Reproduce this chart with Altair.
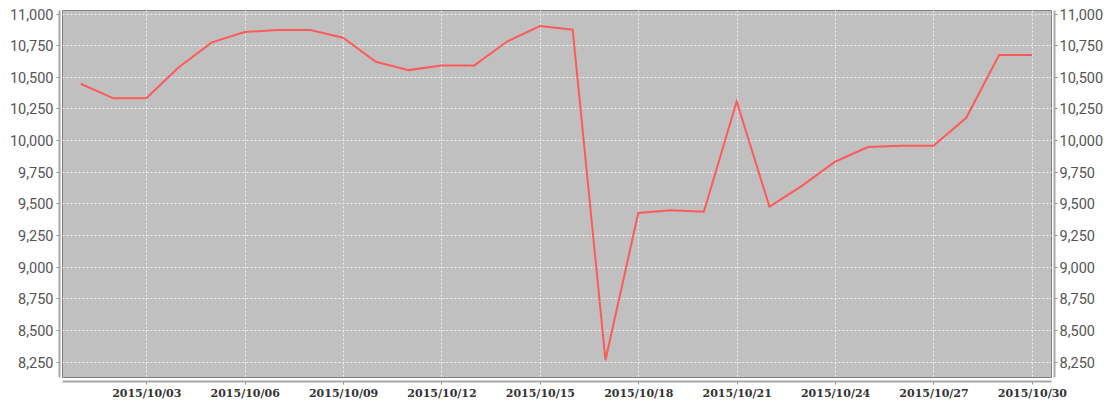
import altair as alt
import pandas as pd

dates = [f"2015-10-{d:02d}T00:00:00" for d in range(1, 31)]
values = [10445, 10330, 10330, 10578, 10772, 10854, 10870, 10870, 10809, 10619,
          10553, 10590, 10590, 10779, 10901, 10872, 8262, 9424, 9445, 9434,
          10305, 9474, 9640, 9829, 9945, 9955, 9955, 10176, 10672, 10672]
y_ticks = [8250, 8500, 8750, 9000, 9250, 9500, 9750, 10000, 10250, 10500, 10750, 11000]
x_tick_days = [3, 6, 9, 12, 15, 18, 21, 24, 27, 30]

df = pd.DataFrame({"date": dates, "value": values})

x_domain = [alt.DateTime(year=2015, month=9, date=30, hours=10, minutes=20),
            alt.DateTime(year=2015, month=10, date=30, hours=14, minutes=0)]
x_values = [alt.DateTime(year=2015, month=10, date=d) for d in x_tick_days]

x_enc = alt.X(
    "date:T",
    scale=alt.Scale(domain=x_domain),
    axis=alt.Axis(
        values=x_values, format="%Y/%m/%d", title=None, offset=4,
        domainColor="#A8A8A8", domainWidth=2, tickColor="#909090", tickSize=3,
        labelFont="DejaVu Serif", labelFontSize=11, labelFontWeight="bold",
        labelColor="#333333", labelPadding=3,
        grid=True, gridColor="#EEEEEE", gridDash=[2, 2], gridWidth=1,
    ),
)

y_scale = alt.Scale(domain=[8128, 11028], nice=False, zero=False)

def y_axis(orient, grid, pad):
    return alt.Axis(
        orient=orient, values=y_ticks, format=",d", title=None, offset=3,
        domainColor="#A8A8A8", domainWidth=2, tickColor="#909090", tickSize=3,
        labelFont="Roboto", labelFontSize=14.5, labelColor="#555555",
        labelPadding=pad, labelOffset=1.5,
        grid=grid, gridColor="#EEEEEE", gridDash=[2, 2], gridWidth=1,
    )

base = alt.Chart(df).encode(x=x_enc)

left = base.mark_line(color="#FF5A5A", strokeWidth=2).encode(
    y=alt.Y("value:Q", scale=y_scale, axis=y_axis("left", True, 3))
)
right = base.mark_line(color="#FF5A5A", strokeWidth=2, opacity=0).encode(
    y=alt.Y("value:Q", scale=y_scale, axis=y_axis("right", False, 2))
)

chart = (
    alt.layer(left, right)
    .resolve_scale(y="independent")
    .properties(
        width=989, height=367,
        autosize=alt.AutoSizeParams(type="none"),
        padding={"left": 54, "top": 2, "right": 52, "bottom": 23},
        view=alt.ViewBackground(fill="#C0C0C0", stroke="#808080", strokeWidth=1),
    )
    .configure(background="white")
)

chart.save("out.html", embed_options={"renderer": "svg", "actions": False})
